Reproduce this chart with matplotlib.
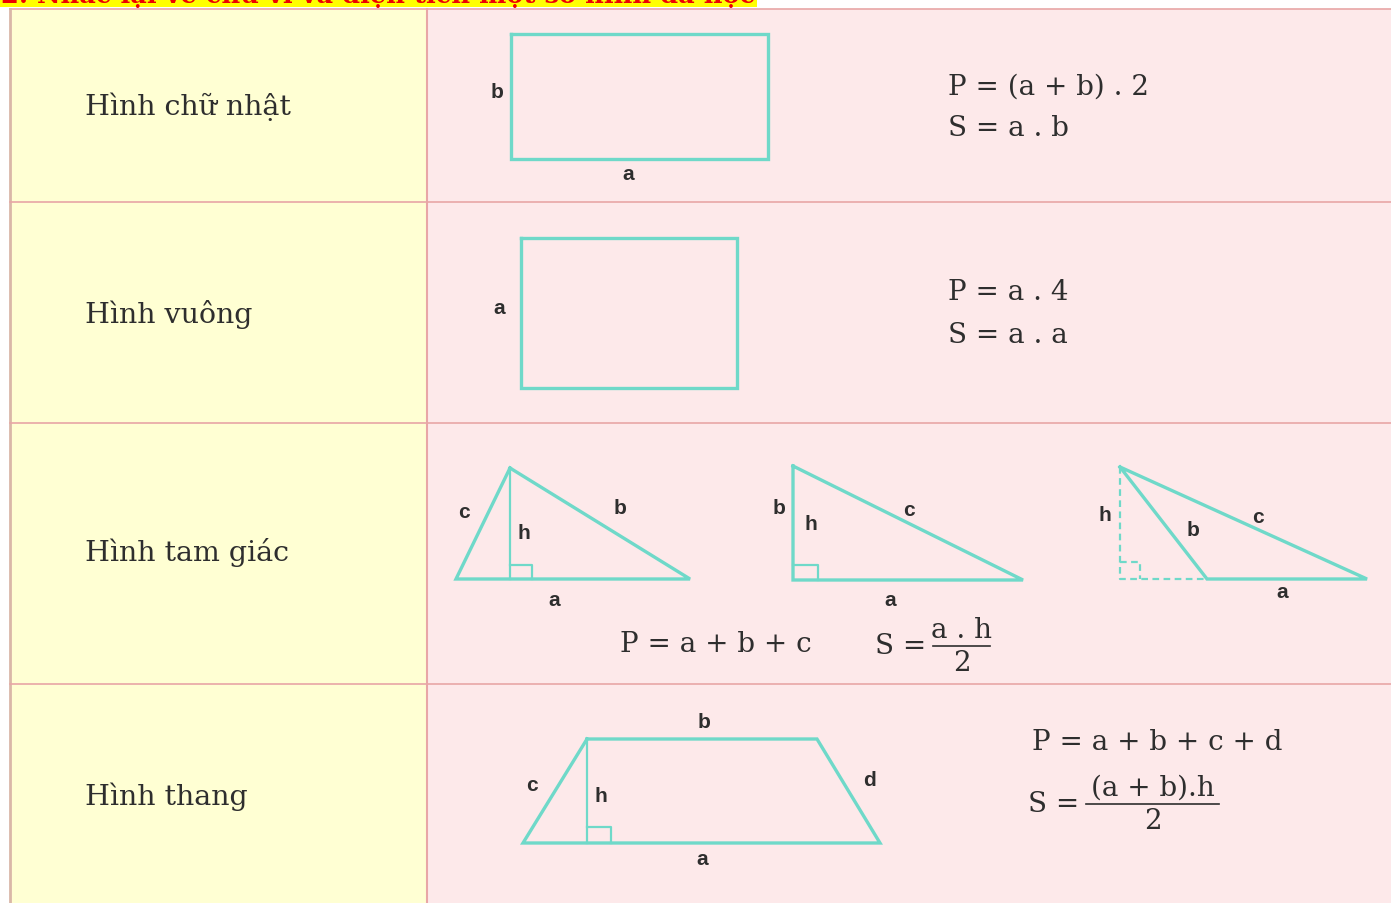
import matplotlib as mpl
mpl.use('Agg')
import matplotlib.pyplot as plt

# table content
row_names = ['Hình chữ nhật', 'Hình vuông', 'Hình tam giác', 'Hình thang']
row_name_y = [107, 315, 553, 797]
row_lines = [203, 424, 685]
title = '2. Nhắc lại về chu vi và diện tích một số hình đã học'

# formulas: (text, x, y)
formulas = [('P = (a + b) . 2', 948, 87), ('S = a . b', 948, 129),
            ('P = a . 4', 948, 293), ('S = a . a', 948, 336),
            ('P = a + b + c', 620, 645), ('P = a + b + c + d', 1032, 743)]
# fractions: (lhs, numerator, denominator, x_lhs_right, x_bar0, x_bar1, y_bar)
fractions = [('S =', 'a . h', '2', 926, 933, 990, 647),
             ('S =', '(a + b).h', '2', 1079, 1086, 1219, 805)]

# shapes (outline vertices)
rect = [(511, 35), (768, 35), (768, 160), (511, 160), (511, 35)]
square = [(521, 239), (737, 239), (737, 389), (521, 389), (521, 239)]
tri1 = [(510, 469), (690, 580), (456, 580), (510, 469)]
tri2 = [(793, 467), (1023, 581), (793, 581), (793, 467)]
tri3 = [(1120, 468), (1367, 580), (1207, 580), (1120, 468)]
trap = [(587, 740), (817, 740), (880, 844), (523, 844), (587, 740)]
# heights (solid) and right angle marks
heights = [[(510, 469), (510, 580)], [(587, 740), (587, 844)]]
corners = [[(510, 566), (532, 566), (532, 580)],
           [(793, 566), (818, 566), (818, 581)],
           [(587, 828), (611, 828), (611, 844)]]
dashed = [[(1120, 468), (1120, 580), (1207, 580)],
          [(1120, 563), (1140, 563), (1140, 580)]]
# side labels
labels = [('b', 497, 93), ('a', 628, 175), ('a', 499, 309),
          ('c', 464, 512), ('b', 620, 509), ('h', 524, 534), ('a', 554, 601),
          ('b', 779, 509), ('h', 811, 525), ('c', 909, 510), ('a', 890, 601),
          ('h', 1105, 516), ('b', 1193, 531), ('c', 1258, 518), ('a', 1282, 593),
          ('b', 704, 723), ('c', 532, 786), ('h', 601, 797), ('d', 869, 781),
          ('a', 702, 860)]

teal = '#6fd9c9'
border = '#e8a6a6'
serif = 'DejaVu Serif'
ink = '#2e2e2e'

fig = plt.figure(figsize=(13.91, 9.04), dpi=100)
ax = fig.add_axes([0, 0, 1, 1])
ax.set_xlim(0, 1391)
ax.set_ylim(904, 0)
ax.axis('off')

# background cells
ax.fill_between([10, 427], 10, 904, color='#ffffd3', lw=0)
ax.fill_between([427, 1391], 10, 904, color='#fde9ea', lw=0)
ax.fill_between([0, 757], 0, 8, color='#ffff00', lw=0)
ax.text(1, 3.5, title, color='#ee0000', fontsize=18.5, fontweight='bold',
        family=serif, va='baseline', ha='left')

# grid lines
ax.plot([10, 1391], [10, 10], color=border, lw=1.2)
ax.plot([10, 10], [10, 904], color='#d9b7a8', lw=2)
ax.plot([427, 427], [10, 904], color=border, lw=1.5)
for y in row_lines:
    ax.plot([10, 1391], [y, y], color=border, lw=1.2)

for name, y in zip(row_names, row_name_y):
    ax.text(85, y, name, fontsize=20.5, family=serif, color=ink,
            va='center', ha='left')

for shape in [rect, square, tri1, tri2, tri3, trap]:
    xs, ys = zip(*shape)
    ax.plot(xs, ys, color=teal, lw=2.4, solid_joinstyle='miter')
for seg in heights + corners:
    xs, ys = zip(*seg)
    ax.plot(xs, ys, color=teal, lw=1.6)
for seg in dashed:
    xs, ys = zip(*seg)
    ax.plot(xs, ys, color=teal, lw=1.6, ls=(0, (3, 2)))

for txt, x, y in labels:
    ax.text(x, y, txt, fontsize=15, fontweight='bold', family='Liberation Sans',
            color=ink, ha='center', va='center')

for txt, x, y in formulas:
    ax.text(x, y, txt, fontsize=20, family=serif, color=ink,
            ha='left', va='center')

for lhs, num, den, xl, b0, b1, yb in fractions:
    ax.text(xl, yb, lhs, fontsize=20, family=serif, color=ink,
            ha='right', va='center')
    ax.plot([b0, b1], [yb, yb], color=ink, lw=1.2)
    ax.text((b0 + b1) / 2, yb - 3, num, fontsize=20, family=serif,
            color=ink, ha='center', va='bottom')
    ax.text((b0 + b1) / 2, yb + 3, den, fontsize=20, family=serif,
            color=ink, ha='center', va='top')

plt.savefig('out.png')
